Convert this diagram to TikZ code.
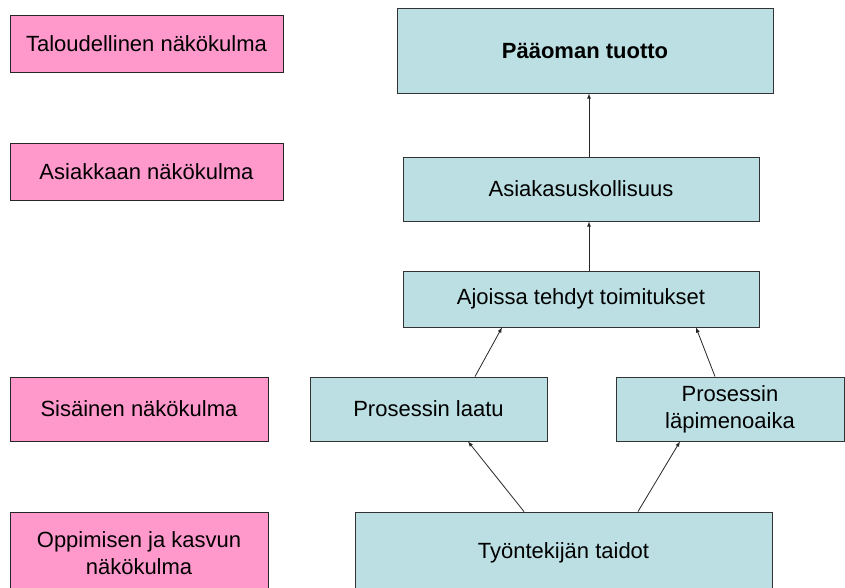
\documentclass[tikz,border=0pt]{standalone}
\usepackage{fontspec}
\setmainfont{Liberation Sans}
\definecolor{nakopink}{RGB}{255,153,204}
\definecolor{mittari}{RGB}{187,223,227}

\begin{document}
\begin{tikzpicture}[x=1pt, y=-1pt, >=latex,
    every node/.style={font=\fontsize{22}{27}\selectfont, align=center, inner sep=0pt},
    nako/.style={draw=black!85, line width=0.9pt, fill=nakopink},
    mitta/.style={draw=black!80, line width=0.9pt, fill=mittari},
    nuoli/.style={->, line width=0.8pt, black!85}]
                \clip (0,0) rectangle (845,587);
                \fill[white] (0,0) rectangle (845,587);

                % Define node positions
                \node[nako, minimum width=273pt, minimum height=57pt] (talous) at (146.5, 43.5) {Taloudellinen näkökulma};
                \node[nako, minimum width=273pt, minimum height=57pt] (asiakas) at (146.5, 171.5) {Asiakkaan näkökulma};
                \node[nako, minimum width=258pt, minimum height=64pt] (sisainen) at (139, 409) {Sisäinen näkökulma};
                \node[nako, minimum width=258pt, minimum height=82pt] (oppiminen) at (139, 553) {Oppimisen ja kasvun\\näkökulma};

                \node[mitta, minimum width=376pt, minimum height=85pt] (tuotto) at (585, 50.5) {\textbf{Pääoman tuotto}};
                \node[mitta, minimum width=356pt, minimum height=64pt] (uskollisuus) at (581, 189) {Asiakasuskollisuus};
                \node[mitta, minimum width=356pt, minimum height=56pt] (toimitukset) at (581, 299) {Ajoissa tehdyt toimitukset};
                \node[mitta, minimum width=237pt, minimum height=64pt] (laatu) at (428.5, 409) {Prosessin laatu};
                \node[mitta, minimum width=228pt, minimum height=64pt] (lapimeno) at (730, 409) {Prosessin\\läpimenoaika};
                \node[mitta, minimum width=417pt, minimum height=82pt] (taidot) at (563.5, 553) {Työntekijän taidot};

                % Draw arrows
                \draw[nuoli] ([xshift=8pt]uskollisuus.north) -- ([xshift=4pt]tuotto.south);
                \draw[nuoli] ([xshift=8pt]toimitukset.north) -- ([xshift=8pt]uskollisuus.south);
                \draw[nuoli] ([xshift=46.5pt]laatu.north) -- ([xshift=-79pt]toimitukset.south);
                \draw[nuoli] ([xshift=-15pt]lapimeno.north) -- ([xshift=115pt]toimitukset.south);
                \draw[nuoli] ([xshift=-39.5pt]taidot.north) -- ([xshift=39.5pt]laatu.south);
                \draw[nuoli] ([xshift=74.5pt]taidot.north) -- ([xshift=-50pt]lapimeno.south);
            \end{tikzpicture}
\end{document}
